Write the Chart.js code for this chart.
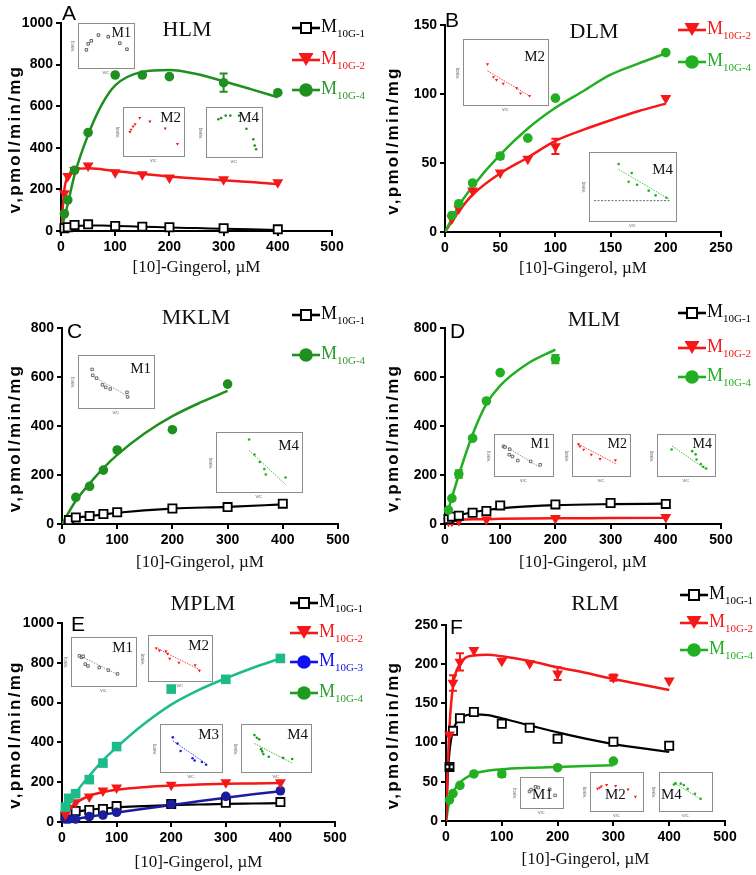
<!DOCTYPE html>
<html><head><meta charset="utf-8">
<script src="https://cdn.jsdelivr.net/npm/chart.js@4.4.1/dist/chart.umd.min.js"></script>
<style>
body{margin:0;width:756px;height:875px;position:relative;background:#fff;overflow:hidden;}
canvas{position:absolute;}
.letter{position:absolute;font:21px 'Liberation Sans',Arial,sans-serif;color:#000;line-height:1;}
.ptitle{position:absolute;font:22px 'Liberation Serif','Times New Roman',serif;color:#111;transform:translate(-50%,-50%);white-space:nowrap;}
.leg{position:absolute;display:flex;align-items:center;height:20px;white-space:nowrap;font-family:'Liberation Serif','Times New Roman',serif;}
.leg .m{font-size:18px;line-height:1;}
.leg sub{font-size:11px;vertical-align:-5px;line-height:1;}
.inset{position:absolute;border:1.5px solid #8c8c8c;box-sizing:border-box;}
.inset canvas{position:absolute;left:0;top:0;}
.ilab{position:absolute;font:15px 'Liberation Serif','Times New Roman',serif;color:#111;line-height:1;white-space:nowrap;}
.tiny{position:absolute;font:4px 'Liberation Sans',Arial,sans-serif;color:#555;line-height:1;white-space:nowrap;}
</style>
</head><body>
<script>
const X_TITLE = '[10]-Gingerol, µM';
const Y_TITLE = 'v,pmol/min/mg';

// ---------- Panel A : HLM ----------
const hlmConc  = [6.25,12.5,25,50,100,150,200,300,400];
const hlmM1    = [13,18,29,32,24,21,18,13,8];
const hlmM2    = [181,264,293,314,282,272,256,248,234];
const hlmM4    = [83,149,292,473,750,750,742,713,665];
const hlmM4Err = [0,0,0,0,0,0,0,44,0];
const hlmFitX  = [0,6.25,12.5,25,50,75,100,150,200,250,300,350,400];
const hlmFitM1 = [0,12,18,24,27,26,24,21,17,14,11,8,5];
const hlmFitM2 = [0,200,261,295,302,297,288,275,262,252,244,235,226];
const hlmFitM4 = [0,65,130,270,462,606,700,765,774,755,720,682,643];

// ---------- Panel B : DLM ----------
const dlmConc  = [6.25,12.5,25,50,75,100,200];
const dlmM2    = [9.7,17,30,43,53,62,97];
const dlmM2Err = [0,0,0,0,0,5.5,0];
const dlmM4    = [12,20.5,35.5,55,68,97,130];
const dlmM4Err = [0,0,0,2,0,0,0];
const dlmFitX  = [0,12.5,25,50,75,100,125,150,175,200];
const dlmFitM2 = [0,15,27,42.5,54,66,74,81,87.5,93];
const dlmFitM4 = [0,19,33,56,75,90,102,114,122,129.5];

// ---------- Panel C : MKLM ----------
const mklmConcM1 = [12.5,25,50,75,100,200,300,400];
const mklmM1     = [16,27,33,41,48,63,69,83];
const mklmConcM4 = [25,50,75,100,200,300];
const mklmM4     = [109,154,220,302,385,571];
const mklmFitX1  = [0,12.5,25,50,75,100,200,300,400];
const mklmFitM1  = [0,16,25,32,39,46,63,70,80];
const mklmFitX4  = [0,25,50,75,100,150,200,250,300];
const mklmFitM4  = [0,95,165,228,282,370,440,495,543];

// ---------- Panel D : MLM ----------
const mlmConcM1 = [6.25,12.5,25,50,75,100,200,300,400];
const mlmM1     = [20,30,34,46,53,76,80,86,82];
const mlmConcM2 = [6.25,12.5,25,75,200,400];
const mlmM2     = [12,12,15,19,24,28];
const mlmConcM4 = [6.25,12.5,25,50,75,100,200];
const mlmM4     = [57,105,204,350,502,618,673];
const mlmM4Err  = [0,0,15,0,0,0,17];
const mlmFitX1  = [0,6.25,12.5,25,50,75,100,150,200,300,400];
const mlmFitM1  = [0,22,29,36,48,57,64,72,77,81,83];
const mlmFitX2  = [0,6.25,12.5,25,50,100,200,300,400];
const mlmFitM2  = [0,9,13,16,19,21,23,24,25];
const mlmFitX4  = [0,6.25,12.5,25,50,75,100,150,200];
const mlmFitM4  = [0,60,108,200,365,490,565,655,712];

// ---------- Panel E : MPLM ----------
const mplmConc  = [6.25,12.5,25,50,75,100,200,300,400];
const mplmM1    = [27,40,55,60,65,80,90,97,100];
const mplmM2    = [38,69,99,127,157,172,186,199,199];
const mplmM3    = [15,15,15,27,35,49,89,129,157];
const mplmM4    = [75,119,142,213,296,379,668,717,822];
const mplmFitX  = [0,6.25,12.5,25,50,75,100,150,200,250,300,350,400];
const mplmFitM1 = [0,25,38,50,61,68,74,80,85,88,91,93,95];
const mplmFitM2 = [0,40,65,95,132,150,162,175,183,188,192,194,196];
const mplmFitM3 = [0,4,7,14,26,37,47,67,85,104,122,139,155];
const mplmFitM4 = [0,45,85,145,232,310,375,492,590,663,722,775,822];

// ---------- Panel F : RLM ----------
const rlmConc   = [6.25,12.5,25,50,100,150,200,300,400];
const rlmM1     = [69,115,131,139,124,119,105,101,96];
const rlmM1Err  = [3,0,0,0,0,0,0,0,0];
const rlmM2     = [110,176,203,218,204,201,188,183,179];
const rlmM2Err  = [0,10,11,0,0,0,8,4,0];
const rlmConcM4 = [6.25,12.5,25,50,100,200,300];
const rlmM4     = [27,35,45.5,60,60,68,76.5];
const rlmM4Err  = [0,0,0,0,4,0,0];
const rlmFitX   = [0,3,6.25,12.5,25,50,75,100,150,200,250,300,350,400];
const rlmFitM1  = [0,55,88,115,130,136,135,131,122,113,105,98,93,88];
const rlmFitM2  = [0,65,120,172,200,211,212,210,204,196,189,181,174,167];
const rlmFitX4  = [0,6.25,12.5,25,50,100,150,200,250,300];
const rlmFitM4  = [0,26,37,49,60,66,68,69,70,71];

// ---------- Inset (Eadie-Hofstee) data, relative units ----------
const insA1 = [[0.06,0.37],[0.10,0.55],[0.17,0.64],[0.33,0.81],[0.55,0.76],[0.81,0.57],[0.97,0.39]];
const insA2 = [[0.04,0.49],[0.06,0.55],[0.10,0.63],[0.14,0.69],[0.23,0.85],[0.43,0.76],[0.73,0.58],[0.97,0.18]];
const insA4 = [[0.16,0.82],[0.22,0.85],[0.32,0.91],[0.42,0.91],[0.61,0.91],[0.77,0.58],[0.92,0.32],[0.95,0.16],[0.98,0.07]];
const insB2 = [[0.26,0.64],[0.34,0.41],[0.38,0.36],[0.47,0.29],[0.65,0.21],[0.70,0.12],[0.82,0.075]];
const insB2Line = [[0.26,0.52],[0.83,0.065]];
const insB4 = [[0.32,0.88],[0.45,0.58],[0.49,0.73],[0.56,0.53],[0.71,0.43],[0.80,0.35],[0.94,0.31]];
const insB4Line = [[0.32,0.79],[0.97,0.29]];
const insB4Base = [[0,0.26],[1,0.26]];
const insC1 = [[0.13,0.79],[0.14,0.65],[0.20,0.58],[0.29,0.42],[0.34,0.36],[0.41,0.32],[0.67,0.24],[0.68,0.13]];
const insC1Line = [[0.13,0.64],[0.68,0.15]];
const insC4 = [[0.37,0.95],[0.44,0.65],[0.51,0.50],[0.57,0.36],[0.59,0.25],[0.85,0.19]];
const insC4Line = [[0.37,0.73],[0.85,0.05]];
const insD1 = [[0.08,0.78],[0.11,0.76],[0.21,0.69],[0.20,0.51],[0.27,0.45],[0.38,0.32],[0.65,0.29],[0.85,0.18]];
const insD1Line = [[0.08,0.82],[0.82,0.12]];
const insD2 = [[0.03,0.84],[0.06,0.77],[0.14,0.67],[0.30,0.51],[0.48,0.38],[0.80,0.34]];
const insD2Line = [[0.03,0.84],[0.82,0.22]];
const insD4 = [[0.20,0.67],[0.63,0.62],[0.70,0.52],[0.72,0.36],[0.81,0.22],[0.86,0.13],[0.92,0.08]];
const insD4Line = [[0.21,0.78],[0.92,0.05]];
const insE1 = [[0.05,0.65],[0.09,0.61],[0.12,0.64],[0.16,0.43],[0.21,0.38],[0.42,0.34],[0.59,0.27],[0.76,0.17]];
const insE1Line = [[0.05,0.66],[0.77,0.15]];
const insE2 = [[0.06,0.77],[0.12,0.71],[0.24,0.69],[0.27,0.62],[0.31,0.48],[0.48,0.37],[0.78,0.30],[0.86,0.15]];
const insE2Line = [[0.05,0.79],[0.87,0.17]];
const insE3 = [[0.15,0.78],[0.24,0.62],[0.30,0.42],[0.53,0.23],[0.57,0.17],[0.71,0.13],[0.79,0.06]];
const insE3Line = [[0.15,0.69],[0.80,0.08]];
const insE4 = [[0.14,0.84],[0.18,0.77],[0.22,0.73],[0.25,0.47],[0.27,0.41],[0.29,0.34],[0.38,0.27],[0.62,0.24],[0.77,0.21]];
const insE4Line = [[0.14,0.62],[0.77,0.10]];
const insF1 = [[0.12,0.55],[0.17,0.65],[0.31,0.79],[0.40,0.76],[0.76,0.66],[0.93,0.35]];
const insF2 = [[0.06,0.60],[0.11,0.63],[0.15,0.68],[0.27,0.73],[0.48,0.69],[0.77,0.57],[0.94,0.32]];
const insF4 = [[0.23,0.74],[0.27,0.78],[0.39,0.77],[0.46,0.72],[0.55,0.59],[0.72,0.42],[0.85,0.25]];
const insF4Line = [[0.23,0.81],[0.88,0.21]];

// ---------- colours ----------
const C_BLACK = '#000000', C_RED = '#f51818', C_GREEN_D = '#1f8f1f', C_GREEN = '#22b022',
      C_TEAL = '#1dbb8a', C_NAVY = '#1c1ca0', C_BLUE = '#1010f0';

const zip = (xs, ys) => xs.map((x, i) => ({x, y: ys[i]}));
const pairs = a => a.map(p => ({x: p[0], y: p[1]}));

const errorBars = {
  id: 'errorBars',
  afterDatasetsDraw(chart) {
    const {ctx, scales: {x, y}} = chart;
    chart.data.datasets.forEach(ds => {
      if (!ds.errors) return;
      ctx.save();
      ctx.strokeStyle = ds.backgroundColor === '#ffffff' ? ds.borderColor : ds.backgroundColor;
      ctx.lineWidth = 2;
      ds.data.forEach((p, j) => {
        const e = ds.errors[j];
        if (!e) return;
        const px = x.getPixelForValue(p.x);
        const t = y.getPixelForValue(p.y + e), b = y.getPixelForValue(p.y - e);
        ctx.beginPath();
        ctx.moveTo(px, t); ctx.lineTo(px, b);
        ctx.moveTo(px - 4, t); ctx.lineTo(px + 4, t);
        ctx.moveTo(px - 4, b); ctx.lineTo(px + 4, b);
        ctx.stroke();
      });
      ctx.restore();
    });
  }
};

// y-axis title drawn with letter spacing (as in the original figure)
const yTitle = {
  id: 'yTitle',
  afterDraw(chart, args, opts) {
    const {ctx, chartArea} = chart;
    ctx.save();
    ctx.font = 'bold 17px "Liberation Sans", Arial, sans-serif';
    ctx.fillStyle = '#000';
    try { ctx.letterSpacing = '2.3px'; } catch (e) {}
    ctx.textAlign = 'center';
    ctx.textBaseline = 'middle';
    ctx.translate(opts.x, (chartArea.top + chartArea.bottom) / 2 + 12);
    ctx.rotate(-Math.PI / 2);
    ctx.fillText(opts.text, 0, 0);
    ctx.restore();
  }
};

function pointsDs(xs, ys, kind, color, errs) {
  const d = {data: zip(xs, ys), showLine: false, clip: false, errors: errs || null, borderColor: color};
  if (kind === 'sq') Object.assign(d, {pointStyle: 'rect', pointRadius: 5.8, backgroundColor: '#ffffff', borderColor: color, pointBorderWidth: 1.8});
  if (kind === 'tri') Object.assign(d, {pointStyle: 'triangle', rotation: 180, pointRadius: 6.3, backgroundColor: color, pointBorderWidth: 0});
  if (kind === 'dot') Object.assign(d, {pointStyle: 'circle', pointRadius: 4.8, backgroundColor: color, pointBorderWidth: 0});
  if (kind === 'fsq') Object.assign(d, {pointStyle: 'rect', pointRadius: 6.8, backgroundColor: color, pointBorderWidth: 0});
  return d;
}
function fitDs(xs, ys, color, w) {
  return {data: zip(xs, ys), showLine: true, pointRadius: 0, borderColor: color, borderWidth: w || 2.5,
          cubicInterpolationMode: 'monotone', fill: false};
}

function makePanel(p) {
  const padTop = 12, padRight = 22;
  const cv = document.createElement('canvas');
  const W = p.x1 - p.L + padRight, Hh = (p.y0 - p.ytop) + padTop + p.H;
  cv.width = W; cv.height = Hh;
  cv.style.left = p.L + 'px'; cv.style.top = (p.ytop - padTop) + 'px';
  document.body.appendChild(cv);
  const axisX0 = p.x0 - p.L, axisH = p.H;
  const tickFont = {family: "'Liberation Sans', Arial, sans-serif", size: 14, weight: 'bold'};
  new Chart(cv, {
    type: 'scatter',
    data: {datasets: p.datasets},
    options: {
      responsive: false, animation: false, devicePixelRatio: 1,
      layout: {padding: {left: 0, top: padTop, right: padRight, bottom: 0}},
      plugins: {legend: {display: false}, tooltip: {enabled: false}, yTitle: {x: 15, text: Y_TITLE}},
      scales: {
        x: {type: 'linear', min: 0, max: p.xmax,
            ticks: {stepSize: p.xstep, color: '#000', font: tickFont, padding: 3, maxRotation: 0, callback: v => String(v)},
            grid: {display: true, drawOnChartArea: false, drawTicks: true, tickLength: 5, color: '#000', lineWidth: 2},
            border: {display: true, color: '#000', width: 2},
            title: {display: true, text: X_TITLE, color: '#111', padding: {top: 0, bottom: 4},
                    font: {family: "'Liberation Serif', 'Times New Roman', serif", size: 17}},
            afterFit: s => { s.height = axisH; }},
        y: {type: 'linear', min: 0, max: p.ymax,
            ticks: {stepSize: p.ystep, color: '#000', font: tickFont, padding: 3, callback: v => String(v)},
            grid: {display: true, drawOnChartArea: false, drawTicks: true, tickLength: 5, color: '#000', lineWidth: 2},
            border: {display: true, color: '#000', width: 2},
            title: {display: false},
            afterFit: s => { s.width = axisX0; }}
      }
    },
    plugins: [errorBars, yTitle]
  });
}

function addText(cls, txt, x, y) {
  const d = document.createElement('div');
  d.className = cls; d.textContent = txt;
  d.style.left = x + 'px'; d.style.top = y + 'px';
  document.body.appendChild(d);
  return d;
}

function markerSvg(kind, color) {
  let shape = '';
  if (kind === 'sq') shape = `<rect x="9" y="3" width="10" height="10" fill="#fff" stroke="${color}" stroke-width="2"/>`;
  if (kind === 'tri') shape = `<polygon points="6.5,1 21.5,1 14,14" fill="${color}"/>`;
  if (kind === 'dot') shape = `<circle cx="14" cy="8" r="6.8" fill="${color}"/>`;
  return `<svg width="28" height="16" viewBox="0 0 28 16" style="display:block;margin-right:1px">` +
         `<line x1="0" y1="8" x2="28" y2="8" stroke="${color}" stroke-width="2.6"/>${shape}</svg>`;
}
function addLegend(x, rows) {
  rows.forEach(r => {
    const d = document.createElement('div');
    d.className = 'leg';
    d.style.left = x + 'px'; d.style.top = (r.y - 10) + 'px'; d.style.color = r.tc || r.color;
    d.innerHTML = markerSvg(r.kind, r.color) + `<span class="m">M<sub>${r.sub}</sub></span>`;
    document.body.appendChild(d);
  });
}

function makeInset(o) {
  const box = document.createElement('div');
  box.className = 'inset';
  Object.assign(box.style, {left: o.x + 'px', top: o.y + 'px', width: o.w + 'px', height: o.h + 'px'});
  document.body.appendChild(box);
  const cv = document.createElement('canvas');
  cv.width = o.w - 3; cv.height = o.h - 3;
  box.appendChild(cv);
  const ptStyle = {
    sq:  {pointStyle: 'rect', pointRadius: 1.8, backgroundColor: '#fff', borderColor: o.color, pointBorderWidth: 0.7},
    tri: {pointStyle: 'triangle', rotation: 180, pointRadius: 1.8, backgroundColor: o.color, pointBorderWidth: 0},
    dot: {pointStyle: 'circle', pointRadius: 1.3, backgroundColor: o.color, pointBorderWidth: 0}
  }[o.kind];
  const ds = [Object.assign({data: pairs(o.pts), showLine: false, clip: false}, ptStyle)];
  if (o.line) ds.push({data: pairs(o.line), showLine: true, pointRadius: 0, borderColor: o.lineColor || o.color,
                       borderWidth: 0.8, borderDash: [1.5, 1.2]});
  if (o.base) ds.push({data: pairs(o.base), showLine: true, pointRadius: 0, borderColor: '#555',
                       borderWidth: 0.9, borderDash: [2, 1.5]});
  new Chart(cv, {
    type: 'scatter', data: {datasets: ds},
    options: {responsive: false, animation: false, devicePixelRatio: 1,
      layout: {padding: 2},
      plugins: {legend: {display: false}, tooltip: {enabled: false}},
      scales: {x: {display: false, min: 0, max: 1}, y: {display: false, min: 0, max: 1}}}
  });
  const lab = document.createElement('div');
  lab.className = 'ilab'; lab.textContent = o.label;
  if (o.lfs) lab.style.fontSize = o.lfs + 'px';
  if (o.lx !== undefined) { lab.style.left = o.lx + 'px'; } else { lab.style.right = '3px'; }
  lab.style.top = (o.ly !== undefined ? o.ly : 2) + 'px';
  box.appendChild(lab);
  addText('tiny', 'V/C', o.x + o.w / 2 - 4, o.y + o.h + 2);
  const yl = addText('tiny', 'V(' + o.label + ')', o.x - 5, o.y + o.h / 2);
  yl.style.transform = 'translate(-50%,-50%) rotate(-90deg)';
}

// ---------------- build panels ----------------
makePanel({L: 0, x0: 61, x1: 332, ytop: 23, y0: 231, H: 51, xmax: 500, xstep: 100, ymax: 1000, ystep: 200,
  datasets: [
    pointsDs(hlmConc, hlmM4, 'dot', C_GREEN_D, hlmM4Err),
    pointsDs(hlmConc, hlmM2, 'tri', C_RED),
    pointsDs(hlmConc, hlmM1, 'sq', C_BLACK),
    fitDs(hlmFitX, hlmFitM4, C_GREEN_D),
    fitDs(hlmFitX, hlmFitM2, C_RED),
    fitDs(hlmFitX, hlmFitM1, C_BLACK, 2)
  ]});
makePanel({L: 378, x0: 445, x1: 721, ytop: 25, y0: 232, H: 51, xmax: 250, xstep: 50, ymax: 150, ystep: 50,
  datasets: [
    pointsDs(dlmConc, dlmM4, 'dot', C_GREEN, dlmM4Err),
    pointsDs(dlmConc, dlmM2, 'tri', C_RED, dlmM2Err),
    fitDs(dlmFitX, dlmFitM4, C_GREEN),
    fitDs(dlmFitX, dlmFitM2, C_RED)
  ]});
makePanel({L: 0, x0: 62, x1: 338, ytop: 328, y0: 524, H: 53, xmax: 500, xstep: 100, ymax: 800, ystep: 200,
  datasets: [
    pointsDs(mklmConcM4, mklmM4, 'dot', C_GREEN_D),
    pointsDs(mklmConcM1, mklmM1, 'sq', C_BLACK),
    fitDs(mklmFitX4, mklmFitM4, C_GREEN_D),
    fitDs(mklmFitX1, mklmFitM1, C_BLACK, 2.2)
  ]});
makePanel({L: 378, x0: 445, x1: 721, ytop: 328, y0: 524, H: 53, xmax: 500, xstep: 100, ymax: 800, ystep: 200,
  datasets: [
    pointsDs(mlmConcM4, mlmM4, 'dot', C_GREEN, mlmM4Err),
    pointsDs(mlmConcM1, mlmM1, 'sq', C_BLACK),
    pointsDs(mlmConcM2, mlmM2, 'tri', C_RED),
    fitDs(mlmFitX4, mlmFitM4, C_GREEN),
    fitDs(mlmFitX1, mlmFitM1, C_BLACK, 2.2),
    fitDs(mlmFitX2, mlmFitM2, C_RED)
  ]});
makePanel({L: 0, x0: 62, x1: 335, ytop: 623, y0: 822, H: 55, xmax: 500, xstep: 100, ymax: 1000, ystep: 200,
  datasets: [
    pointsDs(mplmConc, mplmM4, 'fsq', C_TEAL),
    pointsDs(mplmConc, mplmM2, 'tri', C_RED),
    pointsDs(mplmConc, mplmM3, 'dot', C_NAVY),
    pointsDs(mplmConc, mplmM1, 'sq', C_BLACK),
    fitDs(mplmFitX, mplmFitM4, C_TEAL),
    fitDs(mplmFitX, mplmFitM2, C_RED),
    fitDs(mplmFitX, mplmFitM3, C_NAVY),
    fitDs(mplmFitX, mplmFitM1, C_BLACK, 2.2)
  ]});
makePanel({L: 378, x0: 446, x1: 725, ytop: 625, y0: 821, H: 53, xmax: 500, xstep: 100, ymax: 250, ystep: 50,
  datasets: [
    pointsDs(rlmConc, rlmM2, 'tri', C_RED, rlmM2Err),
    pointsDs(rlmConc, rlmM1, 'sq', C_BLACK, rlmM1Err),
    pointsDs(rlmConcM4, rlmM4, 'dot', C_GREEN, rlmM4Err),
    fitDs(rlmFitX, rlmFitM2, C_RED),
    fitDs(rlmFitX, rlmFitM1, C_BLACK, 2.2),
    fitDs(rlmFitX4, rlmFitM4, C_GREEN)
  ]});

// ---------------- panel letters & titles ----------------
addText('letter', 'A', 62, 2);
addText('letter', 'B', 445, 9);
addText('letter', 'C', 67, 320);
addText('letter', 'D', 450, 320);
addText('letter', 'E', 71, 613);
addText('letter', 'F', 450, 616);
addText('ptitle', 'HLM', 187, 29);
addText('ptitle', 'DLM', 594, 31);
addText('ptitle', 'MKLM', 196, 317);
addText('ptitle', 'MLM', 594, 319);
addText('ptitle', 'MPLM', 203, 603);
addText('ptitle', 'RLM', 595, 603);

// ---------------- legends ----------------
addLegend(292, [{y: 28, kind: 'sq', color: C_BLACK, sub: '10G-1'},
                {y: 60, kind: 'tri', color: C_RED, sub: '10G-2'},
                {y: 90, kind: 'dot', color: C_GREEN_D, tc: '#2a9a2a', sub: '10G-4'}]);
addLegend(678, [{y: 30, kind: 'tri', color: C_RED, sub: '10G-2'},
                {y: 62, kind: 'dot', color: C_GREEN, sub: '10G-4'}]);
addLegend(292, [{y: 315, kind: 'sq', color: C_BLACK, sub: '10G-1'},
                {y: 355, kind: 'dot', color: C_GREEN_D, tc: '#2a9a2a', sub: '10G-4'}]);
addLegend(678, [{y: 313, kind: 'sq', color: C_BLACK, sub: '10G-1'},
                {y: 348, kind: 'tri', color: C_RED, sub: '10G-2'},
                {y: 377, kind: 'dot', color: C_GREEN, sub: '10G-4'}]);
addLegend(290, [{y: 603, kind: 'sq', color: C_BLACK, sub: '10G-1'},
                {y: 633, kind: 'tri', color: C_RED, sub: '10G-2'},
                {y: 662, kind: 'dot', color: C_BLUE, sub: '10G-3'},
                {y: 693, kind: 'dot', color: '#1e9a1e', tc: '#2aa02a', sub: '10G-4'}]);
addLegend(680, [{y: 595, kind: 'sq', color: C_BLACK, sub: '10G-1'},
                {y: 623, kind: 'tri', color: C_RED, sub: '10G-2'},
                {y: 650, kind: 'dot', color: C_GREEN, sub: '10G-4'}]);

// ---------------- insets ----------------
makeInset({x: 78,  y: 23,  w: 57, h: 46, label: 'M1', kind: 'sq',  color: '#222', pts: insA1, lfs: 14});
makeInset({x: 123, y: 107, w: 62, h: 50, label: 'M2', kind: 'tri', color: C_RED, pts: insA2});
makeInset({x: 206, y: 107, w: 57, h: 51, label: 'M4', kind: 'dot', color: C_GREEN_D, pts: insA4});
makeInset({x: 463, y: 39,  w: 86, h: 67, label: 'M2', kind: 'tri', color: C_RED, pts: insB2, line: insB2Line, ly: 9});
makeInset({x: 589, y: 152, w: 88, h: 70, label: 'M4', kind: 'dot', color: C_GREEN, pts: insB4, line: insB4Line, base: insB4Base, ly: 9});
makeInset({x: 78,  y: 355, w: 77, h: 54, label: 'M1', kind: 'sq',  color: '#333', pts: insC1, line: insC1Line, lineColor: '#777', ly: 5});
makeInset({x: 216, y: 432, w: 87, h: 61, label: 'M4', kind: 'dot', color: C_GREEN, pts: insC4, line: insC4Line, ly: 5});
makeInset({x: 494, y: 434, w: 60, h: 43, label: 'M1', kind: 'sq',  color: '#333', pts: insD1, line: insD1Line, lineColor: '#777', lfs: 14});
makeInset({x: 572, y: 434, w: 59, h: 43, label: 'M2', kind: 'tri', color: C_RED, pts: insD2, line: insD2Line, lfs: 14});
makeInset({x: 657, y: 434, w: 59, h: 43, label: 'M4', kind: 'dot', color: C_GREEN, pts: insD4, line: insD4Line, lfs: 14});
makeInset({x: 71,  y: 637, w: 66, h: 50, label: 'M1', kind: 'sq',  color: '#333', pts: insE1, line: insE1Line, lineColor: '#777'});
makeInset({x: 148, y: 635, w: 65, h: 47, label: 'M2', kind: 'tri', color: C_RED, pts: insE2, line: insE2Line});
makeInset({x: 160, y: 724, w: 63, h: 49, label: 'M3', kind: 'dot', color: '#2020d0', pts: insE3, line: insE3Line});
makeInset({x: 241, y: 724, w: 71, h: 49, label: 'M4', kind: 'dot', color: '#1e9a1e', pts: insE4, line: insE4Line});
makeInset({x: 520, y: 777, w: 44, h: 32, label: 'M1', kind: 'sq',  color: '#333', pts: insF1, lx: 11, ly: 9});
makeInset({x: 590, y: 772, w: 54, h: 40, label: 'M2', kind: 'tri', color: C_RED, pts: insF2, lx: 14, ly: 14});
makeInset({x: 659, y: 772, w: 54, h: 40, label: 'M4', kind: 'dot', color: C_GREEN, pts: insF4, line: insF4Line, lx: 1, ly: 14});
</script>
</body></html>
